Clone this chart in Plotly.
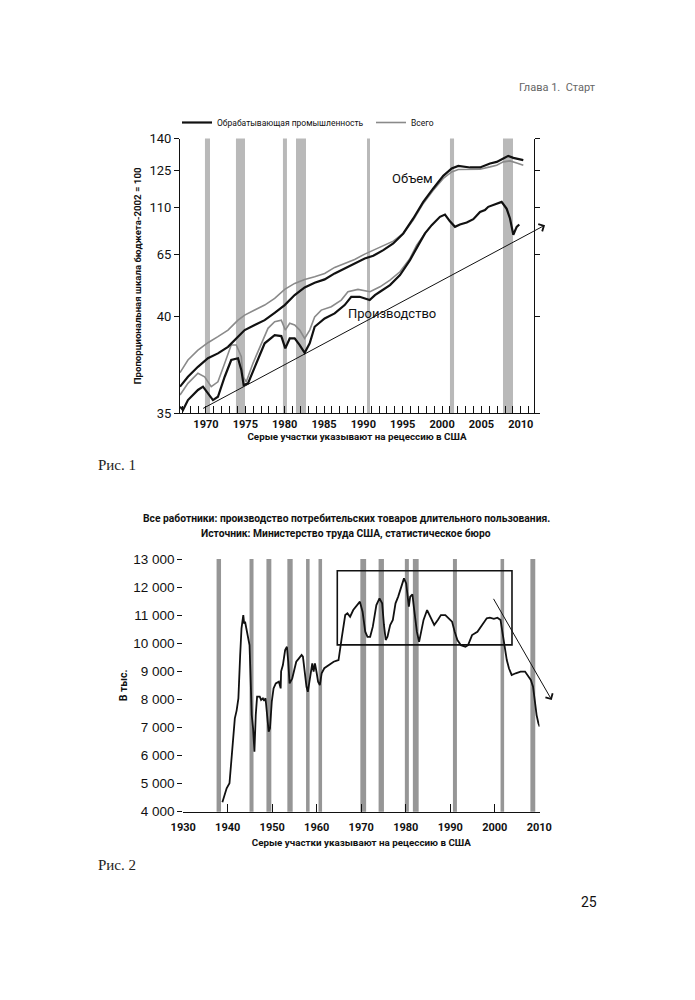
import numpy as np
import plotly.graph_objects as go

COND = "Roboto, Liberation Sans, sans-serif"
REG = "Roboto, Liberation Sans, sans-serif"

# ---------------- Chart 1 data ----------------
c1_tick_labels = [35, 40, 65, 110, 125, 140]
c1_tick_scale = [0, 97.3, 159, 205.6, 243.3, 275]   # proportional scale used by the chart
c1_year_ticks = list(range(1967, 2012))
c1_recessions = [(1969.87, 1970.51), (1973.81, 1974.96), (1979.78, 1980.29),
                 (1981.44, 1982.71), (1990.46, 1990.84), (2001.00, 2001.52),
                 (2007.74, 2009.01)]

total_output_years = [1966.70, 1967.71, 1968.98, 1970.25, 1971.52, 1972.80, 1974.07, 1974.92,
                      1976.19, 1977.46, 1978.73, 1980.00, 1981.27, 1982.54, 1983.81, 1985.08,
                      1986.35, 1987.62, 1988.89, 1990.17, 1991.26, 1992.53, 1993.80, 1995.07,
                      1996.34, 1997.61, 1998.88, 2000.15, 2001.22, 2002.06, 2003.55, 2004.82,
                      2006.09, 2006.94, 2007.78, 2008.63, 2009.48, 2010.32]
total_output = [37.09, 37.74, 38.25, 38.63, 38.94, 39.28, 39.79, 40.41, 42.43, 44.46, 47.17,
                50.82, 53.25, 54.87, 55.92, 57.30, 59.73, 61.35, 62.97, 65.29, 69.15, 73.98,
                77.84, 85.28, 98.12, 111.75, 117.04, 121.70, 124.32, 125.33, 125.33, 125.47,
                126.56, 127.37, 128.93, 129.40, 128.45, 127.37]

mfg_output_years = [1966.70, 1967.71, 1968.98, 1970.25, 1971.52, 1972.80, 1974.07, 1974.92,
                    1976.19, 1977.46, 1978.73, 1980.00, 1981.27, 1982.54, 1983.81, 1985.08,
                    1986.35, 1987.62, 1988.89, 1990.17, 1991.26, 1992.53, 1993.80, 1995.07,
                    1996.34, 1997.61, 1998.88, 2000.15, 2001.22, 2002.06, 2003.55, 2004.82,
                    2006.09, 2006.94, 2007.78, 2008.41, 2009.05, 2010.32]
mfg_output = [36.37, 36.88, 37.39, 37.83, 38.08, 38.42, 38.94, 39.28, 39.54, 39.79, 41.34,
              44.46, 48.51, 51.63, 53.49, 54.87, 57.30, 59.33, 61.35, 63.38, 64.43, 69.15,
              75.62, 85.28, 99.76, 112.39, 117.72, 122.73, 125.80, 127.03, 126.28, 126.28,
              128.17, 128.93, 130.54, 131.77, 130.82, 129.73]

total_prod_years = [1966.70, 1967.71, 1968.98, 1969.83, 1970.67, 1971.52, 1972.38, 1973.21,
                    1973.85, 1974.49, 1974.70, 1975.12, 1975.97, 1977.03, 1977.88, 1978.73,
                    1979.57, 1980.08, 1980.64, 1981.27, 1981.91, 1982.54, 1983.18, 1983.81,
                    1984.65, 1985.92, 1987.19, 1988.04, 1989.31, 1990.84, 1992.11, 1993.38,
                    1994.65, 1995.92, 1996.77, 1997.83]
total_prod = [35.94, 36.54, 37.06, 36.88, 36.37, 36.62, 37.57, 38.51, 38.51, 37.91, 36.88,
              36.62, 37.57, 38.60, 39.37, 39.71, 39.79, 39.28, 39.63, 39.54, 39.28, 38.85,
              39.28, 39.96, 42.43, 43.77, 46.48, 49.85, 50.82, 49.85, 51.87, 54.59, 57.95,
              63.38, 73.98, 85.28]

mfg_prod_years = [1966.70, 1967.08, 1967.71, 1968.98, 1969.62, 1970.25, 1970.89, 1971.52,
                  1972.38, 1973.21, 1974.07, 1974.49, 1974.79, 1975.34, 1976.19, 1977.46,
                  1978.73, 1979.57, 1980.08, 1980.64, 1981.27, 1981.91, 1982.54, 1983.18,
                  1983.81, 1985.08, 1986.35, 1987.62, 1988.46, 1989.53, 1990.80, 1991.47,
                  1992.11, 1993.38, 1994.65, 1995.92, 1996.98, 1997.83, 1998.68, 1999.73,
                  2000.37, 2001.00, 2001.64, 2002.27, 2003.13, 2003.97, 2004.82, 2005.45,
                  2005.87, 2006.72, 2007.57, 2008.21, 2008.63, 2009.05, 2009.48, 2009.81]
mfg_prod = [35.34, 35.17, 35.68, 36.20, 36.37, 36.03, 35.68, 35.85, 36.88, 37.74, 37.83,
            37.23, 36.45, 36.54, 37.39, 38.60, 39.02, 38.97, 38.34, 38.85, 38.85, 38.51,
            38.11, 38.60, 39.45, 39.88, 41.09, 44.46, 47.82, 47.82, 46.48, 48.51, 49.85,
            52.56, 56.61, 62.69, 73.98, 85.28, 93.29, 101.31, 103.5, 97.0, 91.65, 93.97,
            95.90, 99.09, 106.0, 107.78, 110.4, 111.35, 112.39, 109.0, 99.76, 84.0, 91.65,
            93.97]

c1_arrow = {"tail": (1969.45, 35.21), "head": (2013.08, 93.29)}


def scale1(v):
    return np.interp(np.asarray(v, dtype=float), c1_tick_labels, c1_tick_scale)


# ---------------- Chart 2 data ----------------
c2_recessions = [(1937.5, 1938.5), (1944.9, 1945.8), (1948.7, 1949.8), (1953.4, 1954.6),
                 (1957.6, 1958.4), (1960.4, 1961.2), (1969.8, 1971.1), (1973.9, 1975.1),
                 (1979.8, 1980.7), (1981.6, 1982.9), (1990.6, 1991.5), (2001.3, 2002.1),
                 (2008.0, 2009.1)]
c2_yticks = list(range(4000, 13001, 1000))
c2_ytick_text = [f"{v // 1000} 000" for v in c2_yticks]
c2_xticks = list(range(1930, 2011, 10))

dur_years = [1938.8, 1939.4, 1939.76, 1940.4, 1940.9, 1941.6, 1942.0, 1942.4, 1942.8, 1943.1,
             1943.5, 1943.7, 1943.9, 1944.2, 1944.6, 1944.9, 1945.1, 1945.4, 1945.7, 1946.0,
             1946.3, 1946.6, 1947.2, 1947.5, 1947.9, 1948.2, 1948.5, 1948.8, 1949.2, 1949.5,
             1949.9, 1950.3, 1950.8, 1951.5, 1951.9, 1952.0, 1952.4, 1952.9, 1953.3, 1953.6,
             1953.9, 1954.5, 1954.9, 1955.4, 1956.0, 1956.6, 1956.9, 1957.3, 1957.7, 1958.0,
             1958.4, 1958.7, 1959.0, 1959.3, 1959.6, 1960.0, 1960.3, 1960.7, 1961.1, 1961.7,
             1962.6, 1963.0, 1963.8, 1964.5, 1964.9, 1965.6, 1966.4, 1966.9, 1967.5, 1968.2,
             1969.0, 1969.7, 1970.3, 1970.9, 1971.4, 1972.0, 1972.6, 1973.4, 1974.1, 1974.7,
             1975.1, 1975.5, 1975.9, 1976.5, 1977.1, 1977.7, 1978.3, 1979.1, 1979.6, 1980.1,
             1980.4, 1980.7, 1981.0, 1981.5, 1981.9, 1982.5, 1983.0, 1983.4, 1984.0, 1984.8,
             1985.5, 1986.4, 1987.2, 1987.9, 1988.9, 1989.7, 1990.4, 1991.0, 1991.6, 1992.4,
             1993.4, 1994.0, 1994.9, 1996.1, 1997.2, 1998.2, 1998.9, 1999.8, 2000.6, 2001.3,
             2001.7, 2002.1, 2002.7, 2003.2, 2003.8, 2004.7, 2005.8, 2006.8, 2007.5, 2008.1,
             2008.6, 2009.0, 2009.4, 2009.8, 2010.1]
dur_emp = [4335, 4600, 4833, 5011, 6019, 7326, 7600, 8038, 9580, 10531,
           11004, 10700, 10766, 10500, 10175, 9936, 8985, 7443, 6970, 6137,
           7443, 8095, 8095, 7980, 8038, 7950, 8040, 7561, 6849, 6970,
           7917, 8392, 8570, 8630, 8392, 9000, 9224, 9758, 9876, 9341,
           8570, 8750, 9050, 9341, 9460, 9580, 9520, 8930, 8450, 8270,
           8630, 9050, 9283, 8990, 9283, 8930, 8630, 8510, 8930, 9110,
           9220, 9250, 9340, 9380, 9400, 10175, 11004, 11064, 10945, 11183,
           11360, 11480, 11124, 10410, 10230, 10230, 10590, 11360, 11600, 11420,
           10650, 10115, 10230, 10650, 10830, 11420, 11660, 12070, 12310, 12130,
           11780, 11300, 11660, 11740, 11183, 10410, 10050, 10410, 10830, 11183,
           10945, 10650, 10830, 11004, 11004, 10890, 10770, 10410, 10115, 9930,
           9876, 9930, 10290, 10410, 10650, 10890, 10910, 10870, 10910, 10830,
           10410, 9930, 9400, 9100, 8870, 8930, 8990, 8990, 8810, 8690,
           8450, 7920, 7440, 7150, 7030]

c2_box = {"x0": 1964.62, "x1": 2003.87, "y0": 9940, "y1": 12580}
c2_arrow = {"tail": (1999.53, 11635), "head": (2012.8, 7978)}

# ---------------- layout helpers (page pixel -> paper) ----------------
W, H, PAGE_OFF = 695, 1000, 8   # the page body adds an 8px offset


def px(x):
    return (x - PAGE_OFF) / W


def py(y):
    return 1 - (y - PAGE_OFF) / H


# ---------------- Figure ----------------
fig = go.Figure()

fig.add_trace(go.Scatter(x=total_prod_years, y=scale1(total_prod), mode="lines",
                         line=dict(color="#8a8a8a", width=1.6), showlegend=False,
                         xaxis="x", yaxis="y", name="Всего"))
fig.add_trace(go.Scatter(x=mfg_prod_years, y=scale1(mfg_prod), mode="lines",
                         line=dict(color="#111111", width=2.2), showlegend=False,
                         xaxis="x", yaxis="y", name="Обрабатывающая промышленность"))
fig.add_trace(go.Scatter(x=total_output_years, y=scale1(total_output), mode="lines",
                         line=dict(color="#8a8a8a", width=1.6), name="Всего",
                         xaxis="x", yaxis="y", legendrank=2))
fig.add_trace(go.Scatter(x=mfg_output_years, y=scale1(mfg_output), mode="lines",
                         line=dict(color="#111111", width=2.2),
                         name="Обрабатывающая промышленность", xaxis="x", yaxis="y",
                         legendrank=1))

fig.add_trace(go.Scatter(x=dur_years, y=dur_emp, mode="lines",
                         line=dict(color="#111111", width=1.8), showlegend=False,
                         xaxis="x2", yaxis="y2", name="Все работники"))

shapes = []
for a, b in c1_recessions:
    shapes.append(dict(type="rect", xref="x", yref="y domain", x0=a, x1=b, y0=0, y1=1,
                       fillcolor="#b9b9b9", line=dict(width=0), layer="below"))
for a, b in c2_recessions:
    shapes.append(dict(type="rect", xref="x2", yref="y2 domain", x0=a, x1=b, y0=0, y1=1,
                       fillcolor="#969696", line=dict(width=0), layer="below"))
shapes.append(dict(type="rect", xref="x2", yref="y2", x0=c2_box["x0"], x1=c2_box["x1"],
                   y0=c2_box["y0"], y1=c2_box["y1"], line=dict(color="#111111", width=1.6)))

annotations = [
    dict(x=c1_arrow["head"][0], y=float(scale1(c1_arrow["head"][1])), ax=c1_arrow["tail"][0],
         ay=float(scale1(c1_arrow["tail"][1])), xref="x", yref="y", axref="x", ayref="y",
         showarrow=True, arrowhead=4, arrowsize=1.6, arrowwidth=1, arrowcolor="#111", text=""),
    dict(x=c2_arrow["head"][0], y=c2_arrow["head"][1], ax=c2_arrow["tail"][0],
         ay=c2_arrow["tail"][1], xref="x2", yref="y2", axref="x2", ayref="y2",
         showarrow=True, arrowhead=4, arrowsize=1.6, arrowwidth=1, arrowcolor="#111", text=""),
    dict(x=1996.2, y=float(scale1(121.8)), xref="x", yref="y", text="Объем", showarrow=False,
         font=dict(family=REG, size=13, color="#111")),
    dict(x=1993.6, y=float(scale1(41.2)), xref="x", yref="y", text="Производство",
         showarrow=False, font=dict(family=REG, size=13, color="#111")),
    dict(x=px(346), y=py(518), xref="paper", yref="paper", showarrow=False,
         text="<b>Все работники: производство потребительских товаров длительного пользования.</b>",
         font=dict(family=COND, size=10.3, color="#111")),
    dict(x=px(346), y=py(533), xref="paper", yref="paper", showarrow=False,
         text="<b>Источник: Министерство труда США, статистическое бюро</b>",
         font=dict(family=COND, size=10.3, color="#111")),
    dict(x=px(598), y=py(79), xref="paper", yref="paper", xanchor="right",
         showarrow=False, text="Глава 1.&nbsp;&nbsp;Старт",
         font=dict(family=REG, size=11, color="#666")),
    dict(x=px(96), y=py(465), xref="paper", yref="paper", xanchor="left",
         showarrow=False, text="Рис. 1", font=dict(family="Liberation Serif, serif", size=15,
                                                  color="#222")),
    dict(x=px(96), y=py(875), xref="paper", yref="paper", xanchor="left",
         showarrow=False, text="Рис. 2", font=dict(family="Liberation Serif, serif", size=15,
                                                  color="#222")),
    dict(x=px(599), y=py(912), xref="paper", yref="paper", xanchor="right",
         showarrow=False, text="25", font=dict(family=REG, size=14, color="#111")),
]

c1_xtext = [str(y) if y % 5 == 0 else "" for y in c1_year_ticks]

fig.update_layout(
    width=W, height=H, margin=dict(l=0, r=0, t=0, b=0, autoexpand=False),
    paper_bgcolor="white", plot_bgcolor="white",
    shapes=shapes, annotations=annotations,
    showlegend=True,
    legend=dict(orientation="h", x=px(177), y=py(108), xanchor="left", yanchor="top",
                font=dict(family=REG, size=8.5, color="#111"), itemwidth=30,
                entrywidth=149, entrywidthmode="pixels", bgcolor="rgba(0,0,0,0)"),
    xaxis=dict(domain=[px(180), px(534)], range=[1966.70, 2011.68], anchor="y",
               automargin=False,
               tickvals=c1_year_ticks, ticktext=c1_xtext, ticks="inside", ticklen=7,
               tickcolor="#111", showline=True, linecolor="#111", linewidth=1.2,
               showgrid=False, zeroline=False,
               tickfont=dict(family=COND, size=11, color="#111", weight="bold"),
               title=dict(text="<b>Серые участки указывают на рецессию в США</b>",
                          font=dict(family=COND, size=9.8, color="#111"), standoff=3)),
    yaxis=dict(domain=[py(413.3), py(138.5)], range=[0, 275], anchor="x",
               automargin=False,
               tickvals=c1_tick_scale, ticktext=[str(v) for v in c1_tick_labels],
               ticks="outside", ticklen=5, tickcolor="#111", showline=True, linecolor="#111",
               linewidth=1.2, mirror="ticks", showgrid=False, zeroline=False,
               tickfont=dict(family=REG, size=13, color="#111"),
               title=dict(text="<b>Пропорциональная шкала бюджета-2002 = 100</b>",
                          font=dict(family=COND, size=9.6, color="#111"), standoff=6)),
    xaxis2=dict(domain=[px(183.2), px(539.5)], range=[1930, 2010.05], anchor="y2",
                automargin=False,
                tickvals=c2_xticks, ticktext=[str(v) for v in c2_xticks], ticks="inside",
                ticklen=8, tickcolor="#111", showline=True, linecolor="#111", linewidth=1.2,
                showgrid=False, zeroline=False, ticklabelstandoff=5,
                tickfont=dict(family=COND, size=11, color="#111", weight="bold"),
                title=dict(text="<b>Серые участки указывают на рецессию в США</b>",
                           font=dict(family=COND, size=9.8, color="#111"), standoff=6)),
    yaxis2=dict(domain=[py(811.7), py(559)], range=[4000, 13000], anchor="x2",
                automargin=False,
                tickvals=c2_yticks, ticktext=c2_ytick_text, ticks="outside", ticklen=5,
                tickcolor="#111", showline=False, showgrid=False, zeroline=False,
                tickfont=dict(family="Liberation Sans, sans-serif", size=13.5, color="#111"),
                title=dict(text="<b>В тыс.</b>", font=dict(family=COND, size=10.5, color="#111"),
                           standoff=3)),
)

fig.write_html("out.html")
